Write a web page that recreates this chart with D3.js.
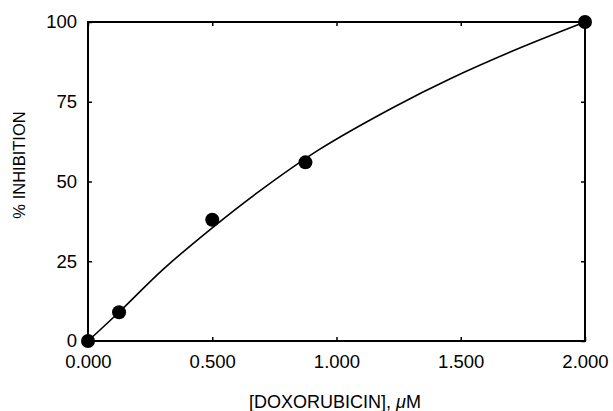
<!DOCTYPE html>
<html>
<head>
<meta charset="utf-8">
<script src="https://cdn.jsdelivr.net/npm/d3@7"></script>
<style>
  body { margin: 0; background: #fff; }
  svg { display: block; font-family: "Liberation Sans", Arial, sans-serif; }
</style>
</head>
<body>
<svg id="svg1" width="613" height="411"></svg>
<script>
// measured points
var doseX = [0, 0.125, 0.5, 0.875, 2.0];
var inhibY = [0, 9, 38, 56, 100];

// fitted curve
var fitX = [0, 0.13, 0.30, 0.50, 0.69, 0.93, 1.23, 1.46, 1.73, 2.0];
var fitY = [0, 9.4, 22.3, 35.5, 47, 60, 73.3, 82.3, 91.6, 100];

var xTicks = [0, 0.5, 1.0, 1.5, 2.0];
var yTicks = [0, 25, 50, 75, 100];

var svg = d3.select('#svg1');

var plotLeft = 88, plotRight = 585, plotTop = 22, plotBottom = 341;

var scaleX = d3.scaleLinear().domain([0, 2]).range([plotLeft, plotRight]);
var scaleY = d3.scaleLinear().domain([0, 100]).range([plotBottom, plotTop]);

// bottom axis with labels
svg.append('g')
    .attr('transform', 'translate(0,' + plotBottom + ')')
    .call(d3.axisBottom(scaleX).tickValues(xTicks).tickSizeInner(-4).tickSizeOuter(0)
        .tickPadding(14).tickFormat(d3.format('.3f')));

svg.append('g')
    .attr('transform', 'translate(' + plotLeft + ',0)')
    .call(d3.axisLeft(scaleY).tickValues(yTicks).tickSizeInner(-4).tickSizeOuter(0)
        .tickPadding(11).tickFormat(d3.format('d')));

// top and right: ticks only
svg.append('g')
    .attr('transform', 'translate(0,' + plotTop + ')')
    .call(d3.axisTop(scaleX).tickValues(xTicks).tickSizeInner(-4).tickSizeOuter(0).tickFormat(''));

svg.append('g')
    .attr('transform', 'translate(' + plotRight + ',0)')
    .call(d3.axisRight(scaleY).tickValues(yTicks).tickSizeInner(-4).tickSizeOuter(0).tickFormat(''));

svg.selectAll('.domain').remove();
svg.selectAll('.tick line').attr('stroke', '#000').attr('stroke-width', 1.5);
svg.selectAll('.tick text')
    .attr('fill', '#000')
    .style('font-size', '18.5px')
    .style('font-family', '"Liberation Sans", Arial, sans-serif');

// frame
svg.append('rect')
    .attr('x', plotLeft).attr('y', plotTop)
    .attr('width', plotRight - plotLeft).attr('height', plotBottom - plotTop)
    .attr('fill', 'none').attr('stroke', '#000').attr('stroke-width', 2);

// curve
var fit = fitX.map(function(d, i){ return [d, fitY[i]]; });
var line = d3.line()
    .x(function(d){ return scaleX(d[0]); })
    .y(function(d){ return scaleY(d[1]); })
    .curve(d3.curveCatmullRom.alpha(0.5));

svg.append('path')
    .datum(fit)
    .attr('d', line)
    .attr('fill', 'none')
    .attr('stroke', '#000')
    .attr('stroke-width', 1.6);

// dots
svg.selectAll('.dot')
    .data(doseX)
    .enter().append('circle')
    .attr('class', 'dot')
    .attr('cx', function(d){ return scaleX(d); })
    .attr('cy', function(d, i){ return scaleY(inhibY[i]); })
    .attr('r', 7)
    .attr('fill', '#000');

// axis titles
var xt = svg.append('text')
    .attr('x', 335).attr('y', 408)
    .attr('text-anchor', 'middle')
    .style('font-size', '18px');
xt.append('tspan').text('[DOXORUBICIN], ');
xt.append('tspan').style('font-style', 'italic').text('\u03bc');
xt.append('tspan').text('M');

svg.append('text')
    .attr('transform', 'translate(25,165) rotate(-90)')
    .attr('text-anchor', 'middle')
    .style('font-size', '16.5px')
    .text('% INHIBITION');
</script>
</body>
</html>
